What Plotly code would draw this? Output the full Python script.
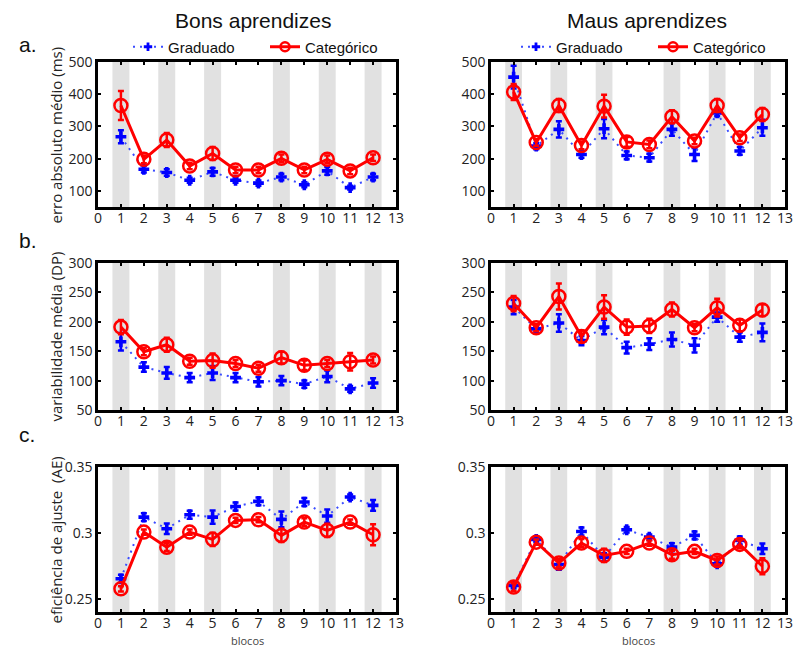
import plotly.graph_objects as go

W, H = 796, 650

blocks = list(range(1, 13))
shaded_blocks = [1, 3, 5, 8, 10, 12]
x_ticks = list(range(0, 14))

# Panel a: erro absoluto médio (ms)
a_bons_grad = [268, 167, 157, 133, 159, 133, 124, 143, 119, 162, 110, 143]
a_bons_grad_err = [20, 10, 10, 8, 12, 8, 8, 10, 8, 12, 6, 10]
a_bons_cat = [365, 198, 258, 177, 216, 165, 165, 201, 165, 198, 162, 203]
a_bons_cat_err = [45, 12, 22, 10, 20, 10, 10, 12, 10, 12, 10, 10]
a_maus_grad = [453, 239, 291, 213, 293, 210, 203, 291, 213, 342, 224, 296]
a_maus_grad_err = [35, 10, 25, 10, 30, 12, 12, 20, 20, 10, 12, 25]
a_maus_cat = [407, 250, 365, 241, 363, 252, 244, 330, 255, 365, 265, 337]
a_maus_cat_err = [25, 10, 20, 12, 35, 15, 12, 20, 10, 20, 10, 20]

# Panel b: variabilidade média (DP)
b_bons_grad = [166, 123, 113, 105, 113, 105, 98, 100, 94, 107, 86, 96]
b_bons_grad_err = [15, 8, 10, 8, 12, 8, 8, 8, 6, 10, 5, 8]
b_bons_cat = [191, 149, 161, 133, 134, 129, 121, 139, 126, 129, 132, 135]
b_bons_cat_err = [12, 6, 12, 6, 12, 6, 6, 10, 8, 6, 15, 6]
b_maus_grad = [225, 188, 198, 168, 191, 156, 162, 170, 160, 208, 174, 182]
b_maus_grad_err = [12, 5, 15, 8, 12, 10, 10, 12, 12, 8, 8, 15]
b_maus_cat = [231, 190, 243, 175, 225, 191, 193, 221, 190, 224, 194, 220]
b_maus_cat_err = [13, 6, 22, 10, 20, 13, 12, 12, 6, 15, 10, 10]

# Panel c: eficiência de ajuste (AE)
c_bons_grad = [0.2652, 0.3120, 0.3032, 0.3138, 0.3120, 0.3200, 0.3239, 0.3103, 0.3234, 0.3128, 0.3272, 0.3209]
c_bons_grad_err = [0.003, 0.003, 0.004, 0.003, 0.005, 0.003, 0.003, 0.006, 0.003, 0.005, 0.002, 0.004]
c_bons_cat = [0.2576, 0.3006, 0.2892, 0.3006, 0.2951, 0.3095, 0.3100, 0.2981, 0.3082, 0.3019, 0.3082, 0.2986]
c_bons_cat_err = [0.002, 0.002, 0.003, 0.002, 0.005, 0.002, 0.002, 0.005, 0.003, 0.005, 0.002, 0.008]
c_maus_grad = [0.2601, 0.2951, 0.2760, 0.3011, 0.2816, 0.3024, 0.2968, 0.2892, 0.2981, 0.2765, 0.2943, 0.2880]
c_maus_grad_err = [0.002, 0.002, 0.004, 0.003, 0.003, 0.002, 0.002, 0.003, 0.003, 0.002, 0.003, 0.004]
c_maus_cat = [0.2589, 0.2930, 0.2771, 0.2923, 0.2829, 0.2860, 0.2923, 0.2834, 0.2860, 0.2791, 0.2913, 0.2747]
c_maus_cat_err = [0.003, 0.002, 0.003, 0.003, 0.005, 0.002, 0.002, 0.003, 0.002, 0.003, 0.003, 0.006]

col_titles = ["Bons aprendizes", "Maus aprendizes"]
row_letters = ["a.", "b.", "c."]
y_titles = ["erro absoluto médio (ms)", "variabilidade média (DP)", "eficiência de ajuste  (AE)"]
y_ranges = [[50, 500], [50, 300], [0.24, 0.35]]
y_tickvals = [[100, 200, 300, 400, 500], [50, 100, 150, 200, 250, 300], [0.25, 0.30, 0.35]]
y_ticktext = [["100", "200", "300", "400", "500"], ["50", "100", "150", "200", "250", "300"], ["0.25", "0.3", "0.35"]]
x_label = "blocos"
legend_names = ["Graduado", "Categórico"]

data = [
    [(a_bons_grad, a_bons_grad_err, a_bons_cat, a_bons_cat_err),
     (a_maus_grad, a_maus_grad_err, a_maus_cat, a_maus_cat_err)],
    [(b_bons_grad, b_bons_grad_err, b_bons_cat, b_bons_cat_err),
     (b_maus_grad, b_maus_grad_err, b_maus_cat, b_maus_cat_err)],
    [(c_bons_grad, c_bons_grad_err, c_bons_cat, c_bons_cat_err),
     (c_maus_grad, c_maus_grad_err, c_maus_cat, c_maus_cat_err)],
]

# layout in pixels
col_px = [(98, 396), (491, 785)]
row_px = [(62, 207), (263, 410), (467, 612)]

def px_x(p):
    return p / W

def px_y(p):
    return 1 - p / H

FONT = "Open Sans"
TFONT = "Liberation Sans"
BLUE = "#0000ff"
DOTBLUE = "#3a4cff"
RED = "#ff0000"
GRAY = "#e1e1e1"

fig = go.Figure()
layout = dict(
    width=W, height=H,
    margin=dict(l=0, r=0, t=0, b=0, pad=0, autoexpand=False),
    paper_bgcolor="white", plot_bgcolor="white",
    font=dict(family=FONT, size=14, color="#222"),
    showlegend=True,
)
shapes = []
annotations = []

k = 0
for r in range(3):
    for c in range(2):
        k += 1
        xa = "xaxis" if k == 1 else f"xaxis{k}"
        ya = "yaxis" if k == 1 else f"yaxis{k}"
        xr = "x" if k == 1 else f"x{k}"
        yr = "y" if k == 1 else f"y{k}"
        x0, x1 = col_px[c]
        y0, y1 = row_px[r]
        layout[xa] = dict(
            domain=[px_x(x0), px_x(x1)], anchor=yr, range=[0, 13],
            tickvals=x_ticks, ticktext=[str(v) for v in x_ticks],
            ticks="inside", ticklen=3, tickwidth=2, tickcolor="black",
            showline=True, linewidth=2.5, linecolor="black", mirror="ticks",
            showgrid=False, zeroline=False, ticklabeloverflow="allow",
            ticklabelstandoff=-4,
            tickfont=dict(family=FONT, size=14, color="#222"),
        )
        layout[ya] = dict(
            domain=[px_y(y1), px_y(y0)], anchor=xr, range=y_ranges[r],
            tickvals=y_tickvals[r], ticktext=y_ticktext[r],
            ticks="inside", ticklen=3, tickwidth=2, tickcolor="black",
            showline=True, linewidth=2.5, linecolor="black", mirror="ticks",
            showgrid=False, zeroline=False, ticklabeloverflow="allow",
            tickfont=dict(family=FONT, size=14, color="#222"),
        )
        for b in shaded_blocks:
            shapes.append(dict(type="rect", xref=xr, yref=f"{yr} domain",
                               x0=b - 0.37, x1=b + 0.37, y0=0, y1=1,
                               fillcolor=GRAY, line=dict(width=0), layer="below"))
        g, ge, ct, cte = data[r][c]
        leg = "legend" if c == 0 else "legend2"
        fig.add_trace(go.Scatter(
            x=blocks, y=g, xaxis=xr, yaxis=yr, name=legend_names[0],
            mode="lines+markers",
            line=dict(color=DOTBLUE, width=2, dash="2px,5px"),
            marker=dict(symbol="cross", size=9, color=BLUE),
            error_y=dict(type="data", array=ge, color=BLUE, thickness=2.5, width=3),
            showlegend=False,
        ))
        fig.add_trace(go.Scatter(
            x=blocks, y=ct, xaxis=xr, yaxis=yr, name=legend_names[1],
            mode="lines+markers",
            line=dict(color=RED, width=3),
            marker=dict(symbol="circle-open", size=13, color=RED, line=dict(width=2.5, color=RED)),
            error_y=dict(type="data", array=cte, color=RED, thickness=2.5, width=3),
            showlegend=False,
        ))
        if r == 0:
            # legend entries (smaller symbols, like the reference key)
            fig.add_trace(go.Scatter(
                x=[None], y=[None], xaxis=xr, yaxis=yr, name=legend_names[0],
                mode="lines+markers",
                line=dict(color=DOTBLUE, width=2, dash="2px,5px"),
                marker=dict(symbol="cross", size=7, color=BLUE),
                legend=leg, showlegend=True,
            ))
            fig.add_trace(go.Scatter(
                x=[None], y=[None], xaxis=xr, yaxis=yr, name=legend_names[1],
                mode="lines+markers",
                line=dict(color=RED, width=3),
                marker=dict(symbol="circle-open", size=9, color=RED, line=dict(width=2.5, color=RED)),
                legend=leg, showlegend=True,
            ))
        if r == 2:
            annotations.append(dict(text=x_label, xref="paper", yref="paper",
                                    x=px_x((x0 + x1) / 2), y=px_y(640), showarrow=False,
                                    font=dict(family=FONT, size=11, color="#444"),
                                    xanchor="center", yanchor="middle"))
    annotations.append(dict(text=y_titles[r], xref="paper", yref="paper",
                            x=px_x(55), y=px_y((row_px[r][0] + row_px[r][1]) / 2),
                            textangle=-90, showarrow=False,
                            font=dict(family=FONT, size=15, color="#222"),
                            xanchor="center", yanchor="middle"))
    annotations.append(dict(text=row_letters[r], xref="paper", yref="paper",
                            x=px_x(17), y=px_y([45, 240, 435][r]), showarrow=False,
                            font=dict(family=TFONT, size=21, color="#111"),
                            xanchor="left", yanchor="middle"))

for c in range(2):
    annotations.append(dict(text=col_titles[c], xref="paper", yref="paper",
                            x=px_x([253, 647][c]), y=px_y(20), showarrow=False,
                            font=dict(family=TFONT, size=21, color="#111"),
                            xanchor="center", yanchor="middle"))

leg_common = dict(orientation="h", xanchor="left", yanchor="middle",
                  font=dict(family=TFONT, size=15, color="#111"),
                  bgcolor="rgba(0,0,0,0)", traceorder="normal",
                  entrywidth=92, entrywidthmode="pixels")
layout["legend"] = dict(x=px_x(128), y=px_y(47), **leg_common)
layout["legend2"] = dict(x=px_x(516), y=px_y(47), **leg_common)
layout["shapes"] = shapes
layout["annotations"] = annotations
fig.update_layout(**layout)

fig.write_html("out.html")
